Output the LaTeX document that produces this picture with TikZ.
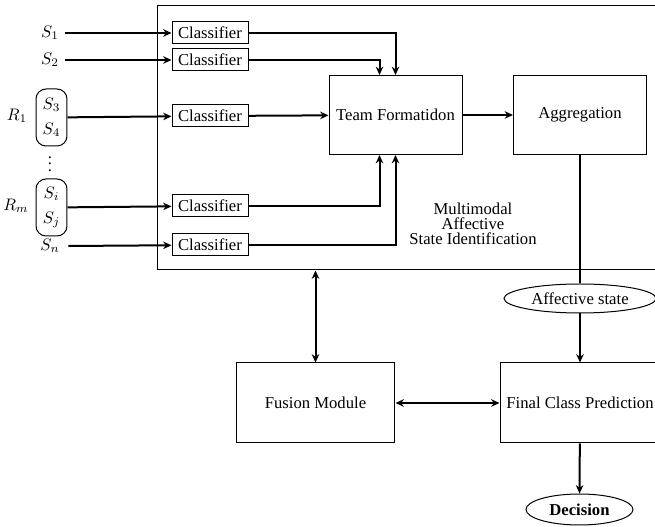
\documentclass[tikz,border=0pt]{standalone}
\usepackage{fontspec}
\setmainfont{Liberation Serif}
\usetikzlibrary{arrows.meta,calc,shapes.geometric}

\tikzset{
  box/.style={draw, line width=0.6pt, inner sep=1pt},
  clsbox/.style={box, minimum width=45.6pt, minimum height=13.2pt},
  bigbox/.style={box, minimum width=#1, minimum height=48pt},
  grpbox/.style={draw, line width=0.6pt, rounded corners=6pt, minimum width=18.6pt,
                 minimum height=34.2pt, align=center, inner sep=1pt},
  oval/.style={draw, ellipse, line width=0.6pt, inner sep=0pt},
  arr/.style={line width=1.2pt, -{Stealth[length=5pt,width=4.5pt]}},
  darr/.style={line width=1.2pt, {Stealth[length=5pt,width=4.5pt]}-{Stealth[length=5pt,width=4.5pt]}},
}

\begin{document}
\begin{tikzpicture}[x=0.6pt, y=-0.6pt]
  \path[use as bounding box, clip] (0,0) rectangle (655,527);

  % Bloque de identificacion
  \node[box, minimum width=301.8pt, minimum height=158.4pt] (mase) at (408.5,138) {};
  \node[align=center] (mtext) at (473,224) {Multimodal\\[-3pt]Affective\\[-3pt]State Identification};

  % Entradas
  \node (s1) at (50,33) {$S_1$};
  \node (s2) at (50,60) {$S_2$};
  \node[grpbox] (g1) at (51.5,117.5) {$S_3$\\[3pt]$S_4$};
  \node (r1) at (17,116) {$R_1$};
  \node[inner sep=0pt] (dots) at (50,159) {$\vdots$};
  \node[grpbox] (gm) at (51.5,207.5) {$S_i$\\[3pt]$S_j$};
  \node (rm) at (16,206) {$R_m$};
  \node[inner sep=1pt] (sn) at (50,246) {$S_n$};

  % Clasificadores
  \node[clsbox] (c1) at (210,33) {Classifier};
  \node[clsbox] (c2) at (210,60) {Classifier};
  \node[clsbox] (c3) at (210,116) {Classifier};
  \node[clsbox] (cm) at (210,206) {Classifier};
  \node[clsbox] (cn) at (210,245) {Classifier};

  % Bloques principales
  \node[box, minimum width=79.8pt, minimum height=47.4pt] (team) at (395.5,115) {Team Formatidon};
  \node[box, minimum width=79.8pt, minimum height=47.4pt] (aggr) at (580,115) {Aggregation};
  \node[oval, minimum width=91.2pt, minimum height=17.4pt, fill=white] (affect) at (580,298.5) {Affective state};
  \node[bigbox=95.4pt] (fusion) at (315.5,403) {Fusion Module};
  \node[bigbox=96pt] (final) at (580,403) {Final Class Prediction};
  \node[oval, minimum width=64.2pt, minimum height=18.6pt] (decision) at (579.5,509.5) {\textbf{Decision}};

  % Conexiones
  \draw[arr] (s1) -- (c1);
  \draw[arr] (s2) -- (c2);
  \draw[arr] (g1) -- (c3);
  \draw[arr] (gm) -- (cm);
  \draw[arr] ([xshift=4pt]sn.east) -- (cn);

  \draw[arr] (c1) -| (team.north);
  \draw[arr] (c2) -| ($(team.north)+(-16,0)$);
  \draw[arr] (c3) -- (team);
  \draw[arr] (cm) -| ($(team.south)+(-16,0)$);
  \draw[arr] (cn) -| (team.south);

  \draw[arr] (team) -- (aggr);
  \draw[line width=1.2pt] (aggr) -- (affect);
  \draw[arr] (affect) -- (final);
  \draw[arr] (final) -- (decision);
  \draw[darr] (fusion) -- (final);
  \draw[darr] (fusion.north |- mase.south) -- (fusion.north);
\end{tikzpicture}
\end{document}
